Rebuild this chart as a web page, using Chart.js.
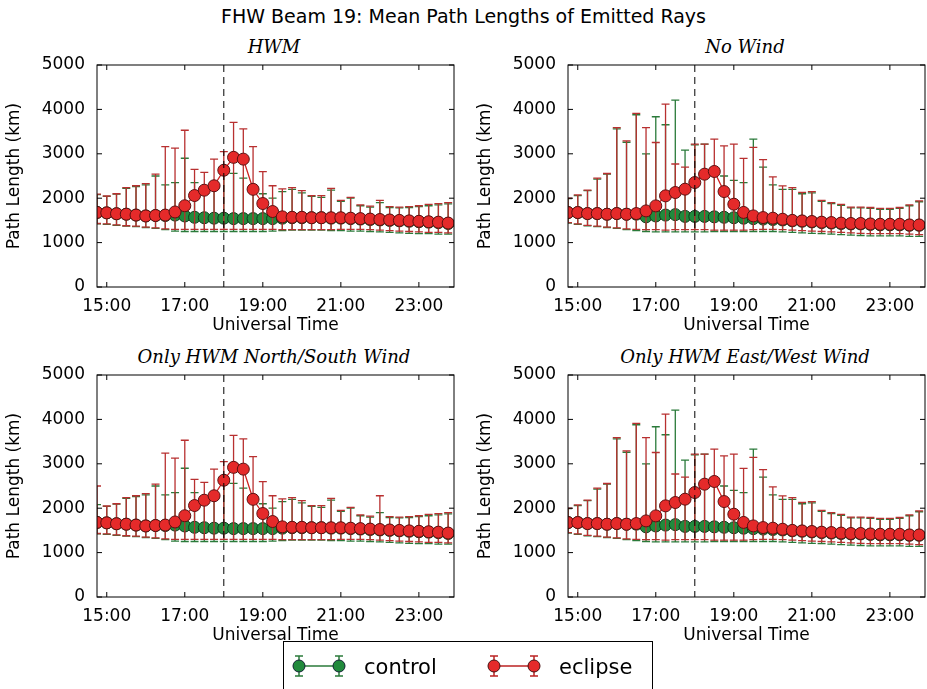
<!DOCTYPE html>
<html><head><meta charset="utf-8">
<script src="https://cdn.jsdelivr.net/npm/chart.js@4.4.0/dist/chart.umd.min.js"></script>
<style>
body{margin:0;background:#fff;width:927px;height:689px;position:relative;overflow:hidden;font-family:"DejaVu Sans",sans-serif}
.p{position:absolute;width:463px;height:300px}
.sub{position:absolute;font-family:"DejaVu Serif",serif;font-style:italic;font-size:18px;text-align:center;width:354px}
#title{position:absolute;top:5px;left:0;width:927px;text-align:center;font-size:19px}
#legend{position:absolute;left:283px;top:641px;width:370px;height:50px;border:1px solid #000;box-sizing:border-box;font-size:21px}
</style></head><body>
<div id="title">FHW Beam 19: Mean Path Lengths of Emitted Rays</div>
<div class="sub" style="left:97px;top:36px">HWM</div>
<div class="sub" style="left:568px;top:36px">No Wind</div>
<div class="sub" style="left:97px;top:346px">Only HWM North/South Wind</div>
<div class="sub" style="left:568px;top:346px">Only HWM East/West Wind</div>
<div class="p" style="left:0;top:40px"><canvas id="c0"></canvas></div>
<div class="p" style="left:471px;top:40px"><canvas id="c1"></canvas></div>
<div class="p" style="left:0;top:350px"><canvas id="c2"></canvas></div>
<div class="p" style="left:471px;top:350px"><canvas id="c3"></canvas></div>
<div id="legend">
<svg width="370" height="48" style="position:absolute;left:0;top:0">
<g stroke="#2a7a3a" stroke-width="1.5"><line x1="15" y1="24" x2="55" y2="24"/><line x1="15" y1="14" x2="15" y2="34"/><line x1="55" y1="14" x2="55" y2="34"/><line x1="11" y1="14" x2="19" y2="14"/><line x1="11" y1="34" x2="19" y2="34"/><line x1="51" y1="14" x2="59" y2="14"/><line x1="51" y1="34" x2="59" y2="34"/></g>
<circle cx="15" cy="24" r="6" fill="#218a3c" stroke="#123"/><circle cx="55" cy="24" r="6" fill="#218a3c" stroke="#123"/>
<text x="80" y="32" font-size="21" font-family="DejaVu Sans">control</text>
<g stroke="#b22" stroke-width="1.5"><line x1="210" y1="24" x2="250" y2="24"/><line x1="210" y1="14" x2="210" y2="34"/><line x1="250" y1="14" x2="250" y2="34"/><line x1="206" y1="14" x2="214" y2="14"/><line x1="206" y1="34" x2="214" y2="34"/><line x1="246" y1="14" x2="254" y2="14"/><line x1="246" y1="34" x2="254" y2="34"/></g>
<circle cx="210" cy="24" r="6" fill="#e52a2a" stroke="#411"/><circle cx="250" cy="24" r="6" fill="#e52a2a" stroke="#411"/>
<text x="275" y="32" font-size="21" font-family="DejaVu Sans">eclipse</text>
</svg></div>
<script>
const times=[14.75,15,15.25,15.5,15.75,16,16.25,16.5,16.75,17,17.25,17.5,17.75,18,18.25,18.5,18.75,19,19.25,19.5,19.75,20,20.25,20.5,20.75,21,21.25,21.5,21.75,22,22.25,22.5,22.75,23,23.25,23.5,23.75];
const xTicks=[15,17,19,21,23];
const yTicks=[0,1000,2000,3000,4000,5000];
const eclipseTime=18;

const hwmEclMean=[1680,1670,1650,1640,1620,1600,1610,1620,1690,1830,2060,2180,2280,2630,2920,2880,2200,1880,1700,1580,1570,1570,1560,1560,1560,1560,1550,1540,1530,1520,1510,1500,1490,1480,1470,1460,1440];
const hwmEclHi=[2090,2050,2100,2240,2280,2330,2540,3160,3130,3530,2650,2580,2880,3050,3710,3560,3160,2600,2280,2210,2240,2170,2060,2060,2220,1950,2020,1850,1820,1950,1810,1800,1810,1830,1860,1880,1900];
const hwmEclLo=[1430,1420,1400,1380,1370,1350,1330,1310,1300,1300,1300,1300,1300,1300,1300,1300,1300,1300,1300,1290,1290,1290,1290,1290,1290,1300,1300,1300,1290,1280,1270,1260,1250,1240,1230,1230,1220];
const hwmCtlMean=[1680,1670,1650,1640,1620,1600,1610,1610,1620,1600,1570,1560,1550,1550,1540,1540,1540,1540,1540,1550,1560,1560,1560,1560,1550,1550,1540,1530,1520,1510,1500,1490,1480,1470,1460,1450,1430];
const hwmCtlHi=[2080,2040,2090,2220,2260,2300,2500,2300,2350,2900,2350,2250,2300,2550,2560,2450,2300,2100,2000,2150,2200,2120,2040,2020,2180,1930,2000,1830,1800,1900,1790,1780,1790,1810,1830,1850,1870];
const hwmCtlLo=[1420,1410,1390,1370,1360,1340,1320,1290,1260,1250,1250,1250,1250,1250,1250,1250,1250,1250,1260,1270,1280,1280,1280,1280,1270,1270,1260,1260,1250,1240,1230,1220,1210,1200,1200,1190,1190];

const nwEclMean=[1677,1677,1654,1654,1639,1654,1639,1654,1714,1827,2053,2128,2203,2353,2541,2602,2150,1865,1680,1601,1564,1550,1526,1500,1489,1475,1460,1451,1440,1430,1430,1420,1413,1413,1413,1398,1398];
const nwEclHi=[2000,2075,2180,2450,2556,3590,3290,3910,3590,3255,4120,2770,2700,3218,3218,3330,3180,3218,2895,3143,2870,2481,2278,2240,2130,2150,1950,1900,1860,1800,1800,1790,1770,1770,1790,1850,1940];
const nwEclLo=[1450,1420,1390,1370,1350,1330,1310,1300,1290,1290,1280,1290,1290,1290,1290,1280,1280,1280,1280,1290,1300,1300,1290,1280,1270,1260,1250,1240,1230,1220,1210,1200,1200,1200,1200,1190,1180];
const nwCtlMean=[1677,1677,1654,1654,1639,1654,1639,1640,1580,1600,1620,1630,1590,1590,1590,1580,1570,1560,1550,1540,1530,1520,1510,1490,1480,1465,1450,1440,1430,1420,1420,1410,1400,1400,1400,1390,1390];
const nwCtlHi=[1990,2060,2170,2430,2540,3560,3260,3880,3000,3835,3654,4210,3083,3200,3218,2600,2500,2400,2350,3331,2700,2300,2200,2200,2100,2120,1930,1880,1840,1780,1780,1770,1750,1750,1770,1830,1920];
const nwCtlLo=[1440,1410,1380,1360,1340,1320,1290,1270,1250,1240,1240,1240,1240,1240,1240,1250,1250,1250,1250,1250,1250,1250,1240,1230,1220,1210,1200,1190,1180,1170,1160,1150,1150,1150,1150,1140,1140];

const nsEclHi=[2500,2050,2100,2240,2280,2330,2540,3240,3130,3530,2650,2580,2880,3050,3640,3560,3160,2600,2280,2210,2240,2170,2060,2060,2220,1950,2020,1850,1820,2280,1810,1800,1810,1830,1860,1880,1900];

const panels=[
 {id:'c0',ctl:[hwmCtlMean,hwmCtlLo,hwmCtlHi],ecl:[hwmEclMean,hwmEclLo,hwmEclHi]},
 {id:'c1',ctl:[nwCtlMean,nwCtlLo,nwCtlHi],ecl:[nwEclMean,nwEclLo,nwEclHi]},
 {id:'c2',ctl:[hwmCtlMean,hwmCtlLo,hwmCtlHi],ecl:[hwmEclMean,hwmEclLo,nsEclHi]},
 {id:'c3',ctl:[nwCtlMean,nwCtlLo,nwCtlHi],ecl:[nwEclMean,nwEclLo,nwEclHi]}
];

const errPlugin={id:'err',
 beforeDatasetDraw(chart,args){
  const ds=chart.data.datasets[args.index];if(!ds.lo)return;
  const x=chart.scales.x,y=chart.scales.y,c=chart.ctx;
  c.save();c.strokeStyle=ds.errColor;c.lineWidth=1.3;
  const a=chart.chartArea;c.beginPath();c.rect(a.left,a.top,a.right-a.left,a.bottom-a.top);c.clip();
  ds.data.forEach((p,i)=>{const px=x.getPixelForValue(p.x),lo=y.getPixelForValue(ds.lo[i]),hi=y.getPixelForValue(ds.hi[i]);
   c.beginPath();c.moveTo(px,lo);c.lineTo(px,hi);c.moveTo(px-4,lo);c.lineTo(px+4,lo);c.moveTo(px-4,hi);c.lineTo(px+4,hi);c.stroke();});
  c.restore();
 },
 afterDraw(chart){
  const a=chart.chartArea,c=chart.ctx,x=chart.scales.x,y=chart.scales.y;
  c.save();c.strokeStyle='#000';c.lineWidth=1;
  c.setLineDash([7,5]);c.beginPath();const ex=x.getPixelForValue(eclipseTime);c.moveTo(ex,a.top);c.lineTo(ex,a.bottom);c.stroke();
  c.setLineDash([]);c.strokeRect(a.left,a.top,a.right-a.left,a.bottom-a.top);
  c.beginPath();
  xTicks.forEach(t=>{const px=x.getPixelForValue(t);c.moveTo(px,a.bottom);c.lineTo(px,a.bottom-5);c.moveTo(px,a.top);c.lineTo(px,a.top+5);});
  yTicks.forEach(t=>{const py=y.getPixelForValue(t);c.moveTo(a.left,py);c.lineTo(a.left+5,py);c.moveTo(a.right,py);c.lineTo(a.right-5,py);});
  c.stroke();c.restore();
 }};

panels.forEach(p=>{
 const mk=(arr,label,fill,edge,line,err,order)=>({label,data:times.map((t,i)=>({x:t,y:arr[0][i]})),lo:arr[1],hi:arr[2],errColor:err,
   borderColor:line,borderWidth:1.3,pointRadius:6,pointBackgroundColor:fill,pointBorderColor:edge,pointBorderWidth:1,order,tension:0});
 new Chart(document.getElementById(p.id),{type:'line',
  data:{datasets:[mk(p.ecl,'eclipse','#e52a2a','#5a1010','#c22','#b83030',0),mk(p.ctl,'control','#218a3c','#123a1c','#1a6a30','#2a7a3a',1)]},
  options:{responsive:true,maintainAspectRatio:false,animation:false,
   layout:{padding:{left:0,right:9,top:25,bottom:0}},
   plugins:{legend:{display:false},tooltip:{enabled:false}},
   scales:{
    x:{type:'linear',min:14.75,max:23.9,grid:{display:false},border:{display:false},
      afterBuildTicks:s=>{s.ticks=xTicks.map(v=>({value:v}));},
      afterFit:s=>{s.height=53;},
      ticks:{color:'#000',font:{size:17,family:'DejaVu Sans'},padding:1,maxRotation:0,callback:v=>v+':00'},
      title:{display:true,text:'Universal Time',color:'#000',font:{size:17,family:'DejaVu Sans'},padding:{top:0}}},
    y:{min:0,max:5000,grid:{display:false},border:{display:false},
      afterBuildTicks:s=>{s.ticks=yTicks.map(v=>({value:v}));},
      afterFit:s=>{s.width=97;},
      ticks:{color:'#000',font:{size:17,family:'DejaVu Sans'},padding:4,callback:v=>String(v)},
      title:{display:true,text:'Path Length (km)',color:'#000',font:{size:17,family:'DejaVu Sans'},padding:{bottom:2}}}
   }},
  plugins:[errPlugin]});
});
</script></body></html>
